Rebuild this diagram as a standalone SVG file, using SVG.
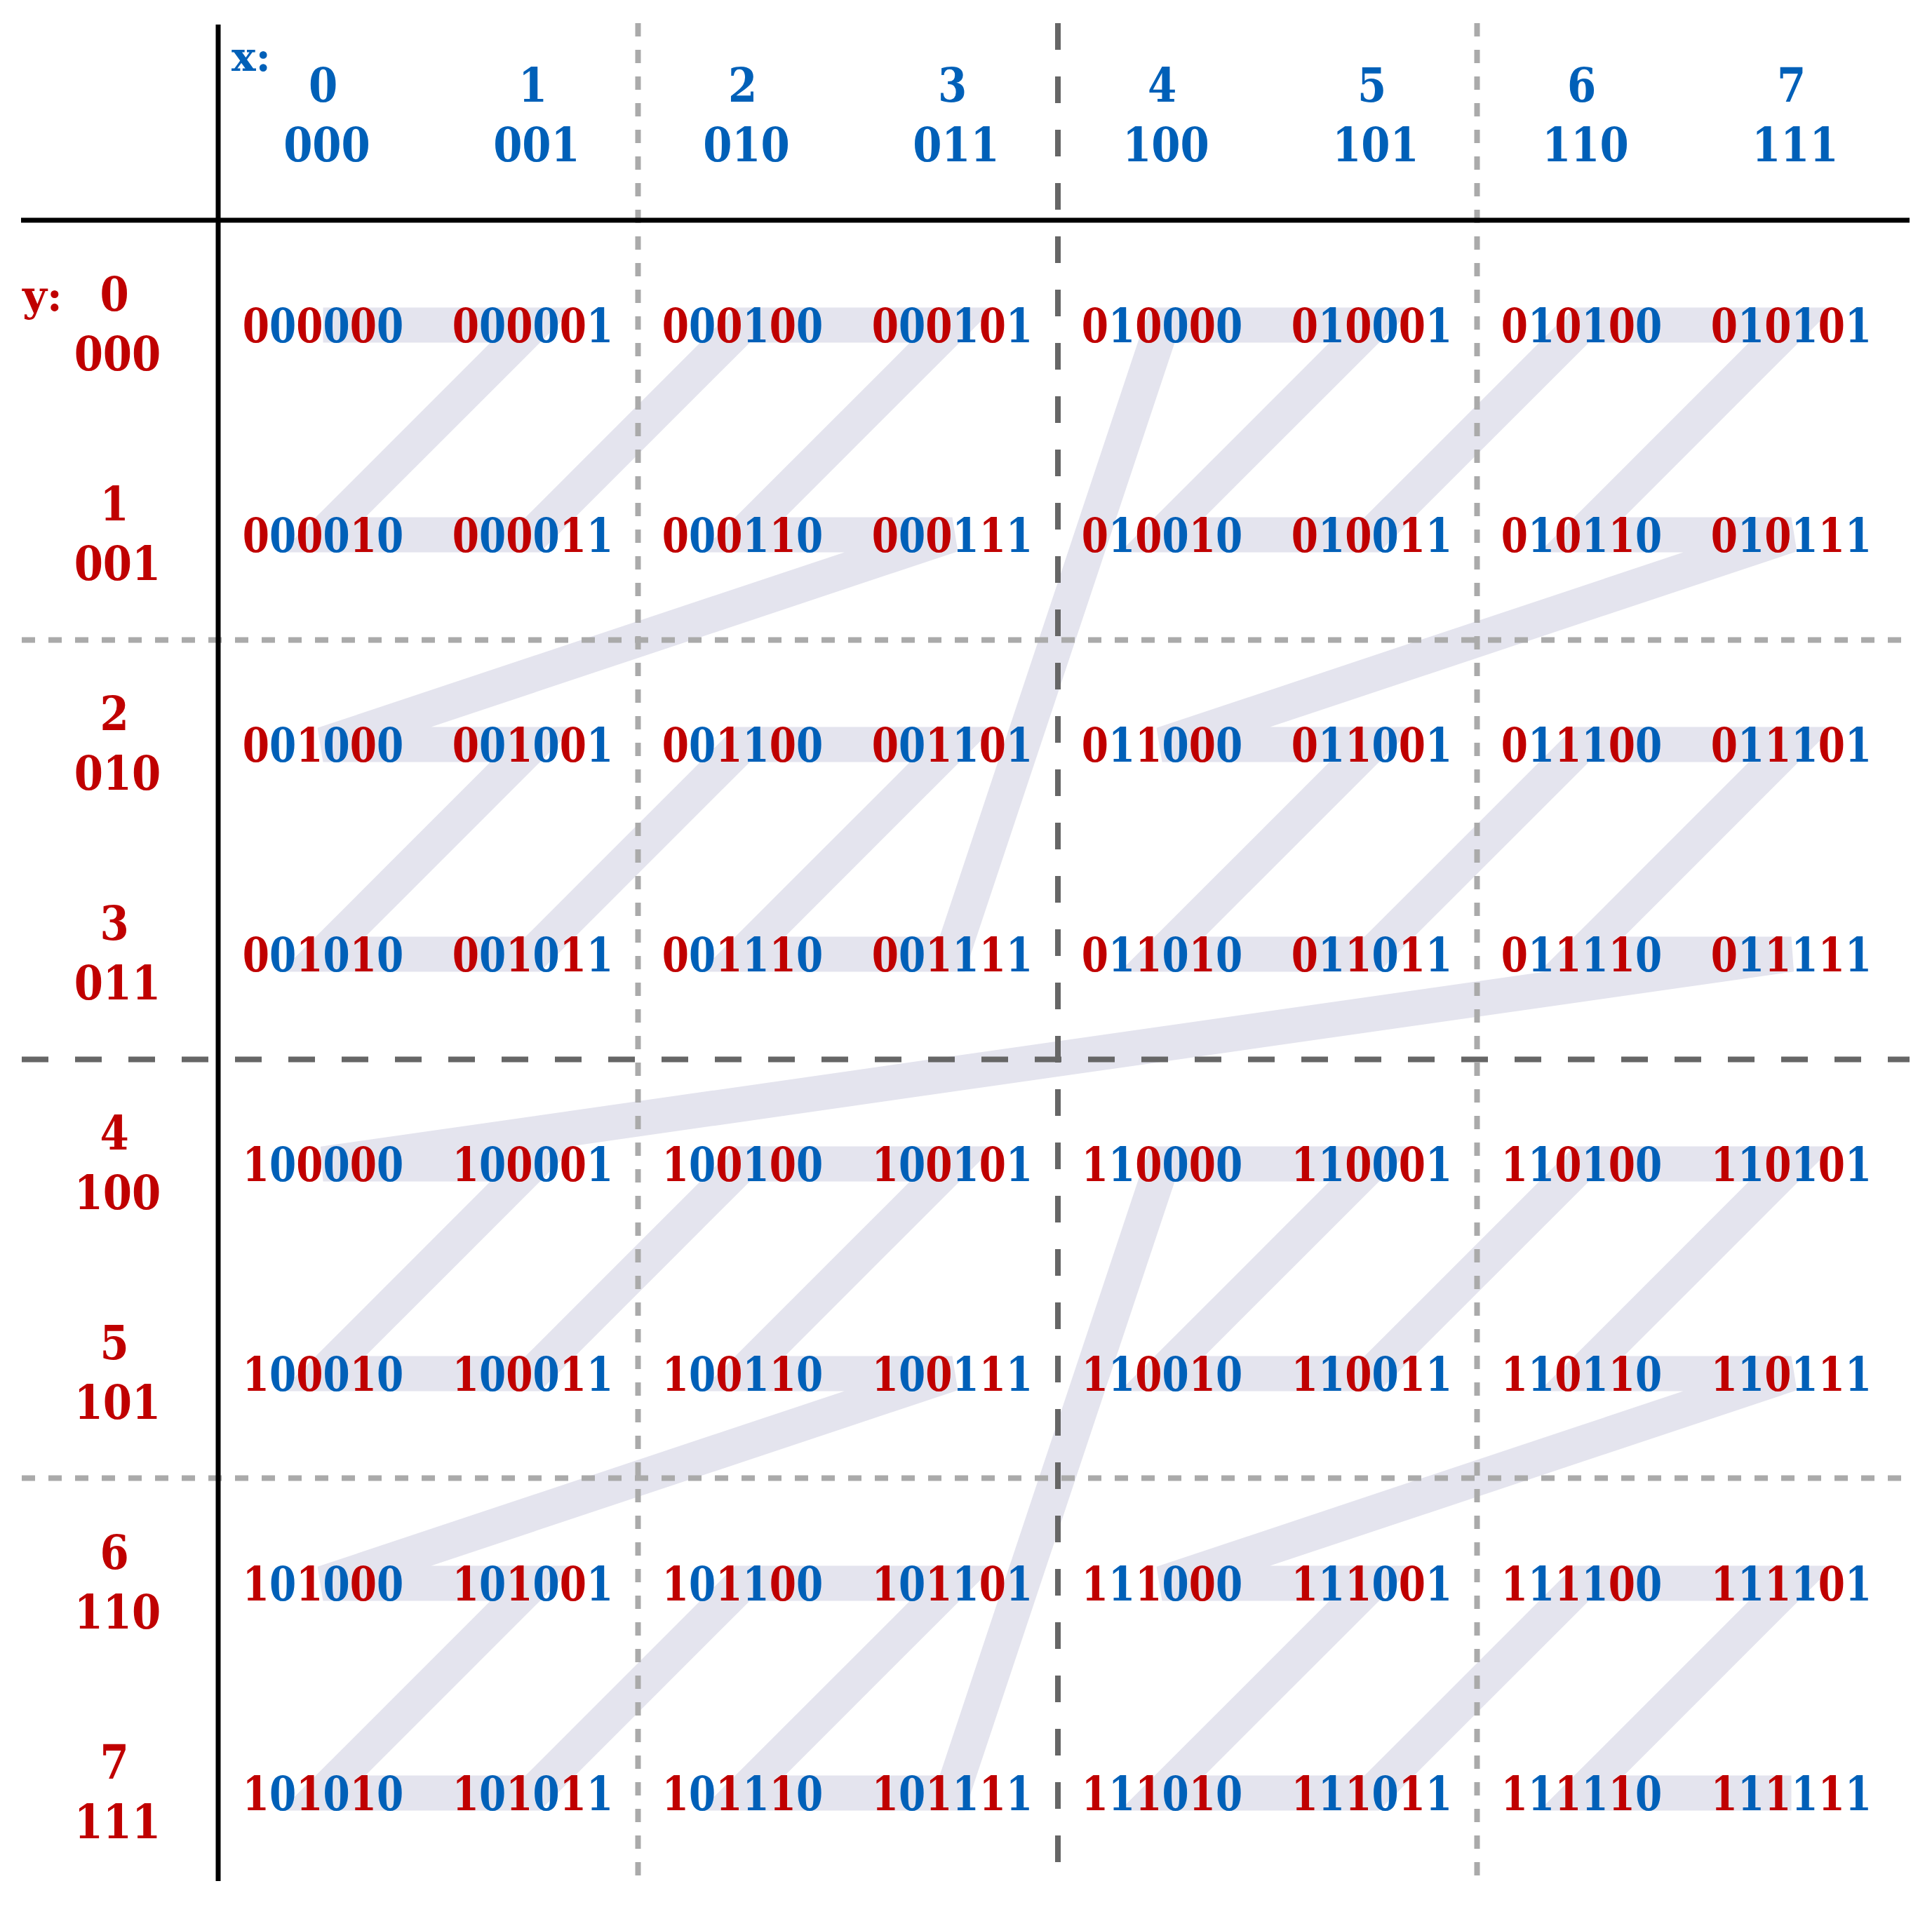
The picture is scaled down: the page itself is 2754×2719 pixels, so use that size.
<svg xmlns="http://www.w3.org/2000/svg" width="2754" height="2719" viewBox="0 0 2754 2719">
<style>
text{font-family:"DejaVu Serif","Liberation Serif",serif;font-weight:bold}
.cell{font-size:67px;text-anchor:middle}
.r{fill:#c00000}
.b{fill:#0060b8}
.xl{font-size:67px;fill:#0060b8;text-anchor:middle}
.yl{font-size:67px;fill:#c00000;text-anchor:middle}
.axx{font-size:58px;fill:#0060b8}
.axy{font-size:60px;fill:#c00000}
.solid{stroke:#000;stroke-width:7;fill:none}
.dot{stroke:#aaaaaa;stroke-width:8;stroke-dasharray:19 19;fill:none}
.dash{stroke:#666666;stroke-width:8;stroke-dasharray:38 38;fill:none}
.z{stroke:#e4e4ee;stroke-width:50;fill:none;stroke-linejoin:miter;stroke-linecap:butt}
</style>
<rect width="2754" height="2719" fill="#fff"/>
<g id="connectors">
<polyline class="z" points="460.5,463.5 759.5,463.5 460.5,762.5 759.5,762.5 1058.5,463.5 1357.5,463.5 1058.5,762.5 1357.5,762.5 460.5,1061.5 759.5,1061.5 460.5,1360.5 759.5,1360.5 1058.5,1061.5 1357.5,1061.5 1058.5,1360.5 1357.5,1360.5 1656.5,463.5 1955.5,463.5 1656.5,762.5 1955.5,762.5 2254.5,463.5 2553.5,463.5 2254.5,762.5 2553.5,762.5 1656.5,1061.5 1955.5,1061.5 1656.5,1360.5 1955.5,1360.5 2254.5,1061.5 2553.5,1061.5 2254.5,1360.5 2553.5,1360.5 460.5,1659.5 759.5,1659.5 460.5,1958.5 759.5,1958.5 1058.5,1659.5 1357.5,1659.5 1058.5,1958.5 1357.5,1958.5 460.5,2257.5 759.5,2257.5 460.5,2556.5 759.5,2556.5 1058.5,2257.5 1357.5,2257.5 1058.5,2556.5 1357.5,2556.5 1656.5,1659.5 1955.5,1659.5 1656.5,1958.5 1955.5,1958.5 2254.5,1659.5 2553.5,1659.5 2254.5,1958.5 2553.5,1958.5 1656.5,2257.5 1955.5,2257.5 1656.5,2556.5 1955.5,2556.5 2254.5,2257.5 2553.5,2257.5 2254.5,2556.5 2553.5,2556.5"/>
</g>
<g id="grid">
<line class="dot" x1="909.5" y1="33" x2="909.5" y2="2682"/>
<line class="dot" x1="2105.5" y1="33" x2="2105.5" y2="2682"/>
<line class="dot" x1="31" y1="912.5" x2="2722" y2="912.5"/>
<line class="dot" x1="31" y1="2107.5" x2="2722" y2="2107.5"/>
<line class="dash" x1="1508" y1="33" x2="1508" y2="2682"/>
<line class="dash" x1="31" y1="1510.5" x2="2722" y2="1510.5"/>
<line class="solid" x1="311" y1="35" x2="311" y2="2682"/>
<line class="solid" x1="30" y1="314" x2="2722" y2="314"/>
</g>
<g id="x-axis">
<text class="axx" x="330" y="101">x:</text>
<g id="col0"><text class="xl" transform="translate(460.5 145) scale(0.885 1)">0</text><text class="xl" transform="translate(466 230) scale(0.885 1)">000</text></g>
<g id="col1"><text class="xl" transform="translate(759.5 145) scale(0.885 1)">1</text><text class="xl" transform="translate(765 230) scale(0.885 1)">001</text></g>
<g id="col2"><text class="xl" transform="translate(1058.5 145) scale(0.885 1)">2</text><text class="xl" transform="translate(1064 230) scale(0.885 1)">010</text></g>
<g id="col3"><text class="xl" transform="translate(1357.5 145) scale(0.885 1)">3</text><text class="xl" transform="translate(1363 230) scale(0.885 1)">011</text></g>
<g id="col4"><text class="xl" transform="translate(1656.5 145) scale(0.885 1)">4</text><text class="xl" transform="translate(1662 230) scale(0.885 1)">100</text></g>
<g id="col5"><text class="xl" transform="translate(1955.5 145) scale(0.885 1)">5</text><text class="xl" transform="translate(1961 230) scale(0.885 1)">101</text></g>
<g id="col6"><text class="xl" transform="translate(2254.5 145) scale(0.885 1)">6</text><text class="xl" transform="translate(2260 230) scale(0.885 1)">110</text></g>
<g id="col7"><text class="xl" transform="translate(2553.5 145) scale(0.885 1)">7</text><text class="xl" transform="translate(2559 230) scale(0.885 1)">111</text></g>
</g>
<g id="y-axis">
<text class="axy" x="32" y="443">y:</text>
<g id="row0"><text class="yl" transform="translate(163 443) scale(0.885 1)">0</text><text class="yl" transform="translate(167.5 528) scale(0.885 1)">000</text></g>
<g id="row1"><text class="yl" transform="translate(163 742) scale(0.885 1)">1</text><text class="yl" transform="translate(167.5 827) scale(0.885 1)">001</text></g>
<g id="row2"><text class="yl" transform="translate(163 1041) scale(0.885 1)">2</text><text class="yl" transform="translate(167.5 1126) scale(0.885 1)">010</text></g>
<g id="row3"><text class="yl" transform="translate(163 1340) scale(0.885 1)">3</text><text class="yl" transform="translate(167.5 1425) scale(0.885 1)">011</text></g>
<g id="row4"><text class="yl" transform="translate(163 1639) scale(0.885 1)">4</text><text class="yl" transform="translate(167.5 1724) scale(0.885 1)">100</text></g>
<g id="row5"><text class="yl" transform="translate(163 1938) scale(0.885 1)">5</text><text class="yl" transform="translate(167.5 2023) scale(0.885 1)">101</text></g>
<g id="row6"><text class="yl" transform="translate(163 2237) scale(0.885 1)">6</text><text class="yl" transform="translate(167.5 2322) scale(0.885 1)">110</text></g>
<g id="row7"><text class="yl" transform="translate(163 2536) scale(0.885 1)">7</text><text class="yl" transform="translate(167.5 2621) scale(0.885 1)">111</text></g>
</g>
<g id="cells">
<g id="n-000000"><text class="cell" transform="translate(460.5 487.5) scale(0.82 1)"><tspan class="r">0</tspan><tspan class="b">0</tspan><tspan class="r">0</tspan><tspan class="b">0</tspan><tspan class="r">0</tspan><tspan class="b">0</tspan></text></g>
<g id="n-000001"><text class="cell" transform="translate(759.5 487.5) scale(0.82 1)"><tspan class="r">0</tspan><tspan class="b">0</tspan><tspan class="r">0</tspan><tspan class="b">0</tspan><tspan class="r">0</tspan><tspan class="b">1</tspan></text></g>
<g id="n-000100"><text class="cell" transform="translate(1058.5 487.5) scale(0.82 1)"><tspan class="r">0</tspan><tspan class="b">0</tspan><tspan class="r">0</tspan><tspan class="b">1</tspan><tspan class="r">0</tspan><tspan class="b">0</tspan></text></g>
<g id="n-000101"><text class="cell" transform="translate(1357.5 487.5) scale(0.82 1)"><tspan class="r">0</tspan><tspan class="b">0</tspan><tspan class="r">0</tspan><tspan class="b">1</tspan><tspan class="r">0</tspan><tspan class="b">1</tspan></text></g>
<g id="n-010000"><text class="cell" transform="translate(1656.5 487.5) scale(0.82 1)"><tspan class="r">0</tspan><tspan class="b">1</tspan><tspan class="r">0</tspan><tspan class="b">0</tspan><tspan class="r">0</tspan><tspan class="b">0</tspan></text></g>
<g id="n-010001"><text class="cell" transform="translate(1955.5 487.5) scale(0.82 1)"><tspan class="r">0</tspan><tspan class="b">1</tspan><tspan class="r">0</tspan><tspan class="b">0</tspan><tspan class="r">0</tspan><tspan class="b">1</tspan></text></g>
<g id="n-010100"><text class="cell" transform="translate(2254.5 487.5) scale(0.82 1)"><tspan class="r">0</tspan><tspan class="b">1</tspan><tspan class="r">0</tspan><tspan class="b">1</tspan><tspan class="r">0</tspan><tspan class="b">0</tspan></text></g>
<g id="n-010101"><text class="cell" transform="translate(2553.5 487.5) scale(0.82 1)"><tspan class="r">0</tspan><tspan class="b">1</tspan><tspan class="r">0</tspan><tspan class="b">1</tspan><tspan class="r">0</tspan><tspan class="b">1</tspan></text></g>

<g id="n-000010"><text class="cell" transform="translate(460.5 786.5) scale(0.82 1)"><tspan class="r">0</tspan><tspan class="b">0</tspan><tspan class="r">0</tspan><tspan class="b">0</tspan><tspan class="r">1</tspan><tspan class="b">0</tspan></text></g>
<g id="n-000011"><text class="cell" transform="translate(759.5 786.5) scale(0.82 1)"><tspan class="r">0</tspan><tspan class="b">0</tspan><tspan class="r">0</tspan><tspan class="b">0</tspan><tspan class="r">1</tspan><tspan class="b">1</tspan></text></g>
<g id="n-000110"><text class="cell" transform="translate(1058.5 786.5) scale(0.82 1)"><tspan class="r">0</tspan><tspan class="b">0</tspan><tspan class="r">0</tspan><tspan class="b">1</tspan><tspan class="r">1</tspan><tspan class="b">0</tspan></text></g>
<g id="n-000111"><text class="cell" transform="translate(1357.5 786.5) scale(0.82 1)"><tspan class="r">0</tspan><tspan class="b">0</tspan><tspan class="r">0</tspan><tspan class="b">1</tspan><tspan class="r">1</tspan><tspan class="b">1</tspan></text></g>
<g id="n-010010"><text class="cell" transform="translate(1656.5 786.5) scale(0.82 1)"><tspan class="r">0</tspan><tspan class="b">1</tspan><tspan class="r">0</tspan><tspan class="b">0</tspan><tspan class="r">1</tspan><tspan class="b">0</tspan></text></g>
<g id="n-010011"><text class="cell" transform="translate(1955.5 786.5) scale(0.82 1)"><tspan class="r">0</tspan><tspan class="b">1</tspan><tspan class="r">0</tspan><tspan class="b">0</tspan><tspan class="r">1</tspan><tspan class="b">1</tspan></text></g>
<g id="n-010110"><text class="cell" transform="translate(2254.5 786.5) scale(0.82 1)"><tspan class="r">0</tspan><tspan class="b">1</tspan><tspan class="r">0</tspan><tspan class="b">1</tspan><tspan class="r">1</tspan><tspan class="b">0</tspan></text></g>
<g id="n-010111"><text class="cell" transform="translate(2553.5 786.5) scale(0.82 1)"><tspan class="r">0</tspan><tspan class="b">1</tspan><tspan class="r">0</tspan><tspan class="b">1</tspan><tspan class="r">1</tspan><tspan class="b">1</tspan></text></g>

<g id="n-001000"><text class="cell" transform="translate(460.5 1085.5) scale(0.82 1)"><tspan class="r">0</tspan><tspan class="b">0</tspan><tspan class="r">1</tspan><tspan class="b">0</tspan><tspan class="r">0</tspan><tspan class="b">0</tspan></text></g>
<g id="n-001001"><text class="cell" transform="translate(759.5 1085.5) scale(0.82 1)"><tspan class="r">0</tspan><tspan class="b">0</tspan><tspan class="r">1</tspan><tspan class="b">0</tspan><tspan class="r">0</tspan><tspan class="b">1</tspan></text></g>
<g id="n-001100"><text class="cell" transform="translate(1058.5 1085.5) scale(0.82 1)"><tspan class="r">0</tspan><tspan class="b">0</tspan><tspan class="r">1</tspan><tspan class="b">1</tspan><tspan class="r">0</tspan><tspan class="b">0</tspan></text></g>
<g id="n-001101"><text class="cell" transform="translate(1357.5 1085.5) scale(0.82 1)"><tspan class="r">0</tspan><tspan class="b">0</tspan><tspan class="r">1</tspan><tspan class="b">1</tspan><tspan class="r">0</tspan><tspan class="b">1</tspan></text></g>
<g id="n-011000"><text class="cell" transform="translate(1656.5 1085.5) scale(0.82 1)"><tspan class="r">0</tspan><tspan class="b">1</tspan><tspan class="r">1</tspan><tspan class="b">0</tspan><tspan class="r">0</tspan><tspan class="b">0</tspan></text></g>
<g id="n-011001"><text class="cell" transform="translate(1955.5 1085.5) scale(0.82 1)"><tspan class="r">0</tspan><tspan class="b">1</tspan><tspan class="r">1</tspan><tspan class="b">0</tspan><tspan class="r">0</tspan><tspan class="b">1</tspan></text></g>
<g id="n-011100"><text class="cell" transform="translate(2254.5 1085.5) scale(0.82 1)"><tspan class="r">0</tspan><tspan class="b">1</tspan><tspan class="r">1</tspan><tspan class="b">1</tspan><tspan class="r">0</tspan><tspan class="b">0</tspan></text></g>
<g id="n-011101"><text class="cell" transform="translate(2553.5 1085.5) scale(0.82 1)"><tspan class="r">0</tspan><tspan class="b">1</tspan><tspan class="r">1</tspan><tspan class="b">1</tspan><tspan class="r">0</tspan><tspan class="b">1</tspan></text></g>

<g id="n-001010"><text class="cell" transform="translate(460.5 1384.5) scale(0.82 1)"><tspan class="r">0</tspan><tspan class="b">0</tspan><tspan class="r">1</tspan><tspan class="b">0</tspan><tspan class="r">1</tspan><tspan class="b">0</tspan></text></g>
<g id="n-001011"><text class="cell" transform="translate(759.5 1384.5) scale(0.82 1)"><tspan class="r">0</tspan><tspan class="b">0</tspan><tspan class="r">1</tspan><tspan class="b">0</tspan><tspan class="r">1</tspan><tspan class="b">1</tspan></text></g>
<g id="n-001110"><text class="cell" transform="translate(1058.5 1384.5) scale(0.82 1)"><tspan class="r">0</tspan><tspan class="b">0</tspan><tspan class="r">1</tspan><tspan class="b">1</tspan><tspan class="r">1</tspan><tspan class="b">0</tspan></text></g>
<g id="n-001111"><text class="cell" transform="translate(1357.5 1384.5) scale(0.82 1)"><tspan class="r">0</tspan><tspan class="b">0</tspan><tspan class="r">1</tspan><tspan class="b">1</tspan><tspan class="r">1</tspan><tspan class="b">1</tspan></text></g>
<g id="n-011010"><text class="cell" transform="translate(1656.5 1384.5) scale(0.82 1)"><tspan class="r">0</tspan><tspan class="b">1</tspan><tspan class="r">1</tspan><tspan class="b">0</tspan><tspan class="r">1</tspan><tspan class="b">0</tspan></text></g>
<g id="n-011011"><text class="cell" transform="translate(1955.5 1384.5) scale(0.82 1)"><tspan class="r">0</tspan><tspan class="b">1</tspan><tspan class="r">1</tspan><tspan class="b">0</tspan><tspan class="r">1</tspan><tspan class="b">1</tspan></text></g>
<g id="n-011110"><text class="cell" transform="translate(2254.5 1384.5) scale(0.82 1)"><tspan class="r">0</tspan><tspan class="b">1</tspan><tspan class="r">1</tspan><tspan class="b">1</tspan><tspan class="r">1</tspan><tspan class="b">0</tspan></text></g>
<g id="n-011111"><text class="cell" transform="translate(2553.5 1384.5) scale(0.82 1)"><tspan class="r">0</tspan><tspan class="b">1</tspan><tspan class="r">1</tspan><tspan class="b">1</tspan><tspan class="r">1</tspan><tspan class="b">1</tspan></text></g>

<g id="n-100000"><text class="cell" transform="translate(460.5 1683.5) scale(0.82 1)"><tspan class="r">1</tspan><tspan class="b">0</tspan><tspan class="r">0</tspan><tspan class="b">0</tspan><tspan class="r">0</tspan><tspan class="b">0</tspan></text></g>
<g id="n-100001"><text class="cell" transform="translate(759.5 1683.5) scale(0.82 1)"><tspan class="r">1</tspan><tspan class="b">0</tspan><tspan class="r">0</tspan><tspan class="b">0</tspan><tspan class="r">0</tspan><tspan class="b">1</tspan></text></g>
<g id="n-100100"><text class="cell" transform="translate(1058.5 1683.5) scale(0.82 1)"><tspan class="r">1</tspan><tspan class="b">0</tspan><tspan class="r">0</tspan><tspan class="b">1</tspan><tspan class="r">0</tspan><tspan class="b">0</tspan></text></g>
<g id="n-100101"><text class="cell" transform="translate(1357.5 1683.5) scale(0.82 1)"><tspan class="r">1</tspan><tspan class="b">0</tspan><tspan class="r">0</tspan><tspan class="b">1</tspan><tspan class="r">0</tspan><tspan class="b">1</tspan></text></g>
<g id="n-110000"><text class="cell" transform="translate(1656.5 1683.5) scale(0.82 1)"><tspan class="r">1</tspan><tspan class="b">1</tspan><tspan class="r">0</tspan><tspan class="b">0</tspan><tspan class="r">0</tspan><tspan class="b">0</tspan></text></g>
<g id="n-110001"><text class="cell" transform="translate(1955.5 1683.5) scale(0.82 1)"><tspan class="r">1</tspan><tspan class="b">1</tspan><tspan class="r">0</tspan><tspan class="b">0</tspan><tspan class="r">0</tspan><tspan class="b">1</tspan></text></g>
<g id="n-110100"><text class="cell" transform="translate(2254.5 1683.5) scale(0.82 1)"><tspan class="r">1</tspan><tspan class="b">1</tspan><tspan class="r">0</tspan><tspan class="b">1</tspan><tspan class="r">0</tspan><tspan class="b">0</tspan></text></g>
<g id="n-110101"><text class="cell" transform="translate(2553.5 1683.5) scale(0.82 1)"><tspan class="r">1</tspan><tspan class="b">1</tspan><tspan class="r">0</tspan><tspan class="b">1</tspan><tspan class="r">0</tspan><tspan class="b">1</tspan></text></g>

<g id="n-100010"><text class="cell" transform="translate(460.5 1982.5) scale(0.82 1)"><tspan class="r">1</tspan><tspan class="b">0</tspan><tspan class="r">0</tspan><tspan class="b">0</tspan><tspan class="r">1</tspan><tspan class="b">0</tspan></text></g>
<g id="n-100011"><text class="cell" transform="translate(759.5 1982.5) scale(0.82 1)"><tspan class="r">1</tspan><tspan class="b">0</tspan><tspan class="r">0</tspan><tspan class="b">0</tspan><tspan class="r">1</tspan><tspan class="b">1</tspan></text></g>
<g id="n-100110"><text class="cell" transform="translate(1058.5 1982.5) scale(0.82 1)"><tspan class="r">1</tspan><tspan class="b">0</tspan><tspan class="r">0</tspan><tspan class="b">1</tspan><tspan class="r">1</tspan><tspan class="b">0</tspan></text></g>
<g id="n-100111"><text class="cell" transform="translate(1357.5 1982.5) scale(0.82 1)"><tspan class="r">1</tspan><tspan class="b">0</tspan><tspan class="r">0</tspan><tspan class="b">1</tspan><tspan class="r">1</tspan><tspan class="b">1</tspan></text></g>
<g id="n-110010"><text class="cell" transform="translate(1656.5 1982.5) scale(0.82 1)"><tspan class="r">1</tspan><tspan class="b">1</tspan><tspan class="r">0</tspan><tspan class="b">0</tspan><tspan class="r">1</tspan><tspan class="b">0</tspan></text></g>
<g id="n-110011"><text class="cell" transform="translate(1955.5 1982.5) scale(0.82 1)"><tspan class="r">1</tspan><tspan class="b">1</tspan><tspan class="r">0</tspan><tspan class="b">0</tspan><tspan class="r">1</tspan><tspan class="b">1</tspan></text></g>
<g id="n-110110"><text class="cell" transform="translate(2254.5 1982.5) scale(0.82 1)"><tspan class="r">1</tspan><tspan class="b">1</tspan><tspan class="r">0</tspan><tspan class="b">1</tspan><tspan class="r">1</tspan><tspan class="b">0</tspan></text></g>
<g id="n-110111"><text class="cell" transform="translate(2553.5 1982.5) scale(0.82 1)"><tspan class="r">1</tspan><tspan class="b">1</tspan><tspan class="r">0</tspan><tspan class="b">1</tspan><tspan class="r">1</tspan><tspan class="b">1</tspan></text></g>

<g id="n-101000"><text class="cell" transform="translate(460.5 2281.5) scale(0.82 1)"><tspan class="r">1</tspan><tspan class="b">0</tspan><tspan class="r">1</tspan><tspan class="b">0</tspan><tspan class="r">0</tspan><tspan class="b">0</tspan></text></g>
<g id="n-101001"><text class="cell" transform="translate(759.5 2281.5) scale(0.82 1)"><tspan class="r">1</tspan><tspan class="b">0</tspan><tspan class="r">1</tspan><tspan class="b">0</tspan><tspan class="r">0</tspan><tspan class="b">1</tspan></text></g>
<g id="n-101100"><text class="cell" transform="translate(1058.5 2281.5) scale(0.82 1)"><tspan class="r">1</tspan><tspan class="b">0</tspan><tspan class="r">1</tspan><tspan class="b">1</tspan><tspan class="r">0</tspan><tspan class="b">0</tspan></text></g>
<g id="n-101101"><text class="cell" transform="translate(1357.5 2281.5) scale(0.82 1)"><tspan class="r">1</tspan><tspan class="b">0</tspan><tspan class="r">1</tspan><tspan class="b">1</tspan><tspan class="r">0</tspan><tspan class="b">1</tspan></text></g>
<g id="n-111000"><text class="cell" transform="translate(1656.5 2281.5) scale(0.82 1)"><tspan class="r">1</tspan><tspan class="b">1</tspan><tspan class="r">1</tspan><tspan class="b">0</tspan><tspan class="r">0</tspan><tspan class="b">0</tspan></text></g>
<g id="n-111001"><text class="cell" transform="translate(1955.5 2281.5) scale(0.82 1)"><tspan class="r">1</tspan><tspan class="b">1</tspan><tspan class="r">1</tspan><tspan class="b">0</tspan><tspan class="r">0</tspan><tspan class="b">1</tspan></text></g>
<g id="n-111100"><text class="cell" transform="translate(2254.5 2281.5) scale(0.82 1)"><tspan class="r">1</tspan><tspan class="b">1</tspan><tspan class="r">1</tspan><tspan class="b">1</tspan><tspan class="r">0</tspan><tspan class="b">0</tspan></text></g>
<g id="n-111101"><text class="cell" transform="translate(2553.5 2281.5) scale(0.82 1)"><tspan class="r">1</tspan><tspan class="b">1</tspan><tspan class="r">1</tspan><tspan class="b">1</tspan><tspan class="r">0</tspan><tspan class="b">1</tspan></text></g>

<g id="n-101010"><text class="cell" transform="translate(460.5 2580.5) scale(0.82 1)"><tspan class="r">1</tspan><tspan class="b">0</tspan><tspan class="r">1</tspan><tspan class="b">0</tspan><tspan class="r">1</tspan><tspan class="b">0</tspan></text></g>
<g id="n-101011"><text class="cell" transform="translate(759.5 2580.5) scale(0.82 1)"><tspan class="r">1</tspan><tspan class="b">0</tspan><tspan class="r">1</tspan><tspan class="b">0</tspan><tspan class="r">1</tspan><tspan class="b">1</tspan></text></g>
<g id="n-101110"><text class="cell" transform="translate(1058.5 2580.5) scale(0.82 1)"><tspan class="r">1</tspan><tspan class="b">0</tspan><tspan class="r">1</tspan><tspan class="b">1</tspan><tspan class="r">1</tspan><tspan class="b">0</tspan></text></g>
<g id="n-101111"><text class="cell" transform="translate(1357.5 2580.5) scale(0.82 1)"><tspan class="r">1</tspan><tspan class="b">0</tspan><tspan class="r">1</tspan><tspan class="b">1</tspan><tspan class="r">1</tspan><tspan class="b">1</tspan></text></g>
<g id="n-111010"><text class="cell" transform="translate(1656.5 2580.5) scale(0.82 1)"><tspan class="r">1</tspan><tspan class="b">1</tspan><tspan class="r">1</tspan><tspan class="b">0</tspan><tspan class="r">1</tspan><tspan class="b">0</tspan></text></g>
<g id="n-111011"><text class="cell" transform="translate(1955.5 2580.5) scale(0.82 1)"><tspan class="r">1</tspan><tspan class="b">1</tspan><tspan class="r">1</tspan><tspan class="b">0</tspan><tspan class="r">1</tspan><tspan class="b">1</tspan></text></g>
<g id="n-111110"><text class="cell" transform="translate(2254.5 2580.5) scale(0.82 1)"><tspan class="r">1</tspan><tspan class="b">1</tspan><tspan class="r">1</tspan><tspan class="b">1</tspan><tspan class="r">1</tspan><tspan class="b">0</tspan></text></g>
<g id="n-111111"><text class="cell" transform="translate(2553.5 2580.5) scale(0.82 1)"><tspan class="r">1</tspan><tspan class="b">1</tspan><tspan class="r">1</tspan><tspan class="b">1</tspan><tspan class="r">1</tspan><tspan class="b">1</tspan></text></g>
</g>
</svg>
